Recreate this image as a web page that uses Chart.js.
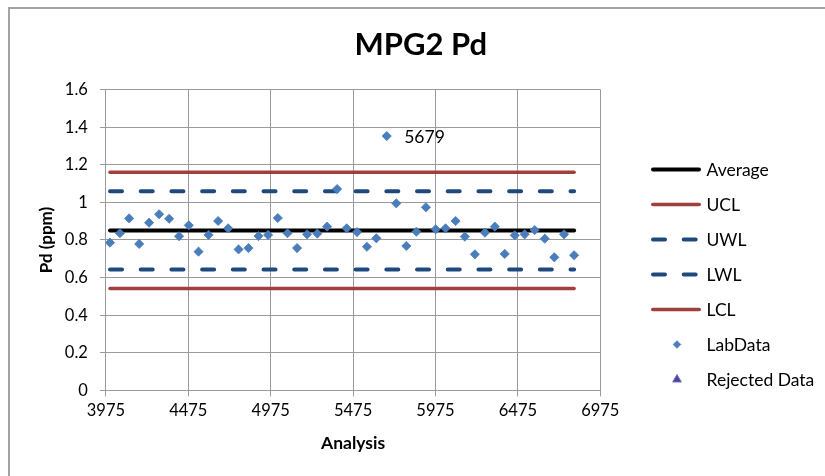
<!DOCTYPE html>
<html>
<head>
<meta charset="utf-8">
<script src="https://cdn.jsdelivr.net/npm/chart.js@4/dist/chart.umd.min.js"></script>
<style>
  html, body { margin: 0; padding: 0; background: #fff; overflow: hidden; }
  #wrap { width: 825px; height: 476px; }
</style>
</head>
<body>
<div id="wrap"><canvas id="c" width="825" height="476"></canvas></div>
<script>
// ---------------- data ----------------
const titleText = 'MPG2 Pd';
const xTitle = 'Analysis';
const yTitle = 'Pd (ppm)';
const xTicks = [3975, 4475, 4975, 5475, 5975, 6475, 6975];
const yTicks = [0, 0.2, 0.4, 0.6, 0.8, 1, 1.2, 1.4, 1.6];

const analysis = [4000, 4060, 4116, 4177, 4237, 4298, 4359, 4419, 4478, 4537,
                  4598, 4656, 4717, 4780, 4840, 4901, 4959, 5018, 5077, 5135,
                  5196, 5258, 5317, 5378, 5436, 5499, 5559, 5616, 5679, 5737,
                  5798, 5859, 5917, 5976, 6036, 6097, 6153, 6214, 6275, 6335,
                  6395, 6456, 6516, 6577, 6638, 6696, 6755, 6816];
const pd = [0.786, 0.836, 0.915, 0.779, 0.892, 0.937, 0.913, 0.820, 0.878, 0.738,
            0.827, 0.901, 0.862, 0.750, 0.757, 0.821, 0.827, 0.917, 0.836, 0.757,
            0.830, 0.834, 0.871, 1.071, 0.862, 0.842, 0.764, 0.809, 1.353, 0.995,
            0.768, 0.844, 0.974, 0.857, 0.862, 0.901, 0.818, 0.724, 0.839, 0.871,
            0.726, 0.825, 0.830, 0.853, 0.807, 0.708, 0.830, 0.719];
const labelledAnalyses = [5679];
const rejectedAnalysis = [];
const rejectedPd = [];

const average = 0.851;
const ucl = 1.160;
const uwl = 1.059;
const lwl = 0.643;
const lcl = 0.542;

// ---------------- styles ----------------
const FONT = "Lato, 'Liberation Sans', sans-serif";
const RED = '#a03f3c';
const DBLUE = '#1f497d';
const MBLUE = '#4a7ebb';
const GRID = '#9a9a9a';

function limitLine(v) {
  return [{ x: analysis[0], y: v }, { x: analysis[analysis.length - 1], y: v }];
}
function lineDs(label, v, color, width, dash) {
  return {
    label, data: limitLine(v), showLine: true,
    borderColor: color, backgroundColor: color, borderWidth: width,
    borderDash: dash || [], borderCapStyle: 'round',
    pointRadius: 0, pointHoverRadius: 0, order: 1
  };
}

const datasets = [
  lineDs('Average', average, '#000000', 4),
  lineDs('UCL', ucl, RED, 3.5),
  lineDs('UWL', uwl, DBLUE, 4, [12, 18.7]),
  lineDs('LWL', lwl, DBLUE, 4, [12, 18.7]),
  lineDs('LCL', lcl, RED, 3.5),
  {
    label: 'LabData', data: analysis.map((x, i) => ({ x, y: pd[i] })), showLine: false,
    pointStyle: 'rectRot', pointRadius: 4.6, pointBorderWidth: 0.8,
    backgroundColor: MBLUE, borderColor: MBLUE, legendRadius: 3.8, order: -1
  },
  {
    label: 'Rejected Data', data: rejectedAnalysis.map((x, i) => ({ x, y: rejectedPd[i] })), showLine: false,
    pointStyle: 'triangle', pointRadius: 5, pointBorderWidth: 1,
    backgroundColor: '#7030a0', borderColor: '#4f81bd', legendRadius: 5, order: -2
  }
];

// ---------------- plugins ----------------
const background = {
  id: 'background',
  beforeDraw(chart) {
    const ctx = chart.ctx;
    ctx.save();
    ctx.fillStyle = '#ffffff';
    ctx.fillRect(0, 0, chart.width, chart.height);
    ctx.strokeStyle = '#a3a3a3';
    ctx.lineWidth = 2;
    ctx.strokeRect(9, 8, chart.width + 20, chart.height + 20);
    ctx.restore();
  }
};

const pointLabels = {
  id: 'pointLabels',
  afterDatasetsDraw(chart) {
    const idx = chart.data.datasets.findIndex(d => d.label === 'LabData');
    const meta = chart.getDatasetMeta(idx);
    const ctx = chart.ctx;
    ctx.save();
    ctx.font = '17.5px ' + FONT;
    ctx.fillStyle = '#000';
    ctx.textAlign = 'left';
    ctx.textBaseline = 'middle';
    meta.data.forEach((el, i) => {
      if (labelledAnalyses.includes(analysis[i])) {
        ctx.fillText(String(analysis[i]), el.x + 17.5, el.y + 1);
      }
    });
    ctx.restore();
  }
};

const customLegend = {
  id: 'customLegend',
  afterDraw(chart) {
    const ctx = chart.ctx;
    const x0 = 651, x1 = 701, tx = 706.5, y0 = 169.5, dy = 35;
    chart.data.datasets.forEach((ds, i) => {
      const y = y0 + i * dy;
      ctx.save();
      if (ds.showLine) {
        ctx.strokeStyle = ds.borderColor;
        ctx.lineWidth = ds.borderWidth;
        ctx.lineCap = ds.borderCapStyle;
        ctx.setLineDash(ds.borderDash);
        const cap = ds.borderWidth / 2;
        ctx.beginPath();
        ctx.moveTo(x0 + cap, y);
        ctx.lineTo(x1 - cap, y);
        ctx.stroke();
      } else {
        ctx.fillStyle = ds.backgroundColor;
        ctx.strokeStyle = ds.borderColor;
        ctx.lineWidth = ds.pointBorderWidth;
        Chart.helpers.drawPoint(ctx, {
          pointStyle: ds.pointStyle, radius: ds.legendRadius,
          borderWidth: ds.pointBorderWidth, rotation: 0
        }, (x0 + x1) / 2 + 1, y);
      }
      ctx.setLineDash([]);
      ctx.fillStyle = '#000';
      ctx.font = '17.5px ' + FONT;
      ctx.textAlign = 'left';
      ctx.textBaseline = 'middle';
      ctx.fillText(ds.label, tx, y + 1);
      ctx.restore();
    });
  }
};

// ---------------- chart ----------------
function build() {
  Chart.defaults.font.family = FONT;
  Chart.defaults.color = '#000';

  new Chart(document.getElementById('c'), {
    type: 'scatter',
    data: { datasets },
    plugins: [background, pointLabels, customLegend],
    options: {
      responsive: false,
      animation: false,
      devicePixelRatio: 1,
      layout: { padding: { left: 16.5, right: 0, top: 0, bottom: 0 } },
      plugins: {
        legend: { display: false },
        tooltip: { enabled: false },
        title: {
          display: true, text: titleText, color: '#000',
          font: { size: 31, weight: 'bold', family: FONT },
          padding: { top: 26.5, bottom: 25.9 }
        }
      },
      scales: {
        x: {
          type: 'linear', position: 'bottom',
          min: xTicks[0], max: xTicks[xTicks.length - 1],
          afterBuildTicks(s) { s.ticks = xTicks.map(v => ({ value: v })); },
          ticks: {
            stepSize: xTicks[1] - xTicks[0], padding: 4, maxRotation: 0, autoSkip: false,
            color: '#000', font: { size: 16.5 },
            callback: v => String(v)
          },
          grid: { color: GRID, lineWidth: 1, tickLength: 6, drawTicks: true },
          border: { color: GRID, width: 1 },
          title: {
            display: true, text: xTitle, color: '#000',
            font: { size: 17.5, weight: 'bold' },
            padding: { top: 0, bottom: 22 }
          },
          afterFit(s) { s.height = 476 - 390.4; }
        },
        y: {
          type: 'linear', position: 'left',
          min: yTicks[0], max: yTicks[yTicks.length - 1],
          afterBuildTicks(s) { s.ticks = yTicks.map(v => ({ value: v })); },
          ticks: {
            stepSize: 0.2, padding: 12, autoSkip: false,
            color: '#000', font: { size: 16.5 },
            callback: v => String(+Number(v).toFixed(1))
          },
          grid: { color: GRID, lineWidth: 1, tickLength: 6, drawTicks: true },
          border: { color: GRID, width: 1 },
          title: {
            display: true, text: yTitle, color: '#000',
            font: { size: 17, weight: 'bold' },
            padding: { top: 20.3, bottom: 0 }
          },
          afterFit(s) { s.width = 105.9 - 16.5; }
        },
        yRight: {
          type: 'linear', position: 'right', display: true,
          grid: { display: false }, ticks: { display: false }, border: { display: false },
          afterFit(s) { s.width = 825 - 600.3; }
        }
      }
    }
  });
}

if (document.fonts && document.fonts.load) {
  Promise.all([
    document.fonts.load('16px Lato'),
    document.fonts.load('bold 16px Lato')
  ]).then(build, build);
} else {
  build();
}
</script>
</body>
</html>
